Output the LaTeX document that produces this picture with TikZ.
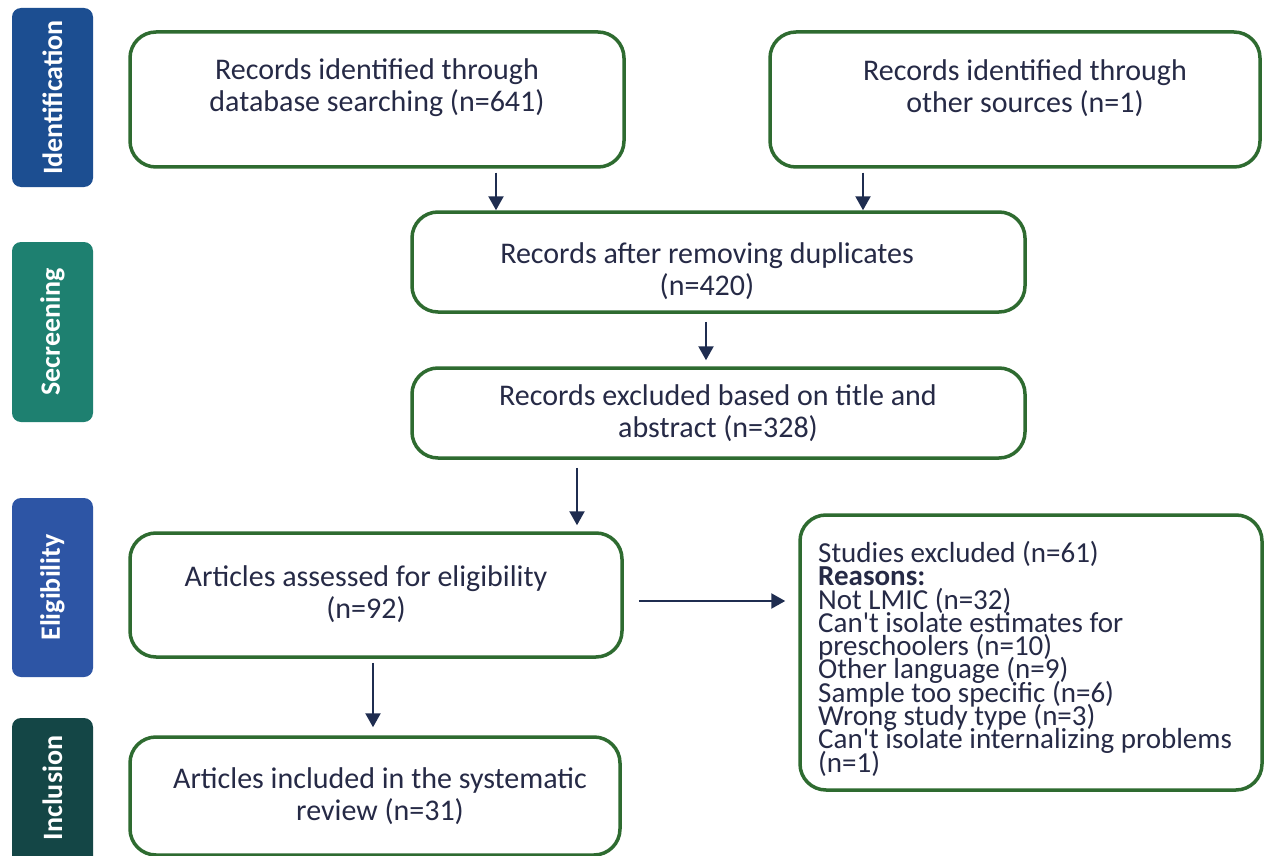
\documentclass[tikz,border=0pt]{standalone}
\usepackage{fontspec}
\setmainfont{Carlito}
\usetikzlibrary{arrows.meta,calc}
\definecolor{boxgreen}{RGB}{46,107,48}
\definecolor{txtnavy}{RGB}{38,42,70}
\definecolor{arrnavy}{RGB}{31,45,80}
\definecolor{idblue}{RGB}{28,78,145}
\definecolor{scteal}{RGB}{30,128,112}
\definecolor{elblue}{RGB}{45,85,165}
\definecolor{indark}{RGB}{20,70,70}
\newcommand\mytightlines{\lineskiplimit=-50pt\relax\lineskip=0pt\relax}
\tikzset{
  flowbox/.style={draw=boxgreen, line width=3.5pt, rounded corners=26pt, fill=white, inner sep=0pt},
  flowtext/.style={text=txtnavy, align=center, font=\fontsize{30}{32}\selectfont, inner sep=0pt},
  reasontext/.style={text=txtnavy, align=left, anchor=north west, font={\fontsize{29}{23.3}\selectfont\mytightlines}, inner sep=0pt},
  sidebox/.style={rounded corners=9pt, inner sep=0pt},
  sidetext/.style={text=white, rotate=90, font=\fontsize{28}{30}\selectfont\bfseries, inner sep=0pt},
  arr/.style={draw=arrnavy, line width=2.3pt, -{Triangle[width=15pt,length=14pt]}},
}
\begin{document}
\begin{tikzpicture}[x=1pt,y=-1pt]
\useasboundingbox (0,0) rectangle (1264,856);
\clip (0,0) rectangle (1264,856);
\fill[white] (0,0) rectangle (1264,856);
% side labels
\fill[idblue, sidebox] (12,8) rectangle (93,187);
\node[sidetext] (sid) at (52.5,97.5) {Identification};
\fill[scteal, sidebox] (12,242) rectangle (93,422);
\node[sidetext] (ssc) at (52.5,332) {Secreening};
\fill[elblue, sidebox] (12,498) rectangle (93,677);
\node[sidetext] (sel) at (52.5,587.5) {Eligibility};
\fill[indark, sidebox] (12,718) rectangle (93,880);
\node[sidetext] (sin) at (52.5,788) {Inclusion};
% boxes
\node[flowbox, minimum width=494pt, minimum height=135pt] (A) at (377,99.5) {};
\node[flowtext] (At) at (377,88) {Records identified through\\database searching (n=641)};
\node[flowbox, minimum width=490pt, minimum height=135pt] (B) at (1015,99.5) {};
\node[flowtext] (Bt) at (1025,88) {Records identified through\\other sources (n=1)};
\node[flowbox, minimum width=613pt, minimum height=100pt] (C) at (718.5,262) {};
\node[flowtext] (Ct) at (707,271) {Records after removing duplicates\\(n=420)};
\node[flowbox, minimum width=613pt, minimum height=90pt] (D) at (718.5,413) {};
\node[flowtext] (Dt) at (718,413) {Records excluded based on title and\\abstract (n=328)};
\node[flowbox, minimum width=492pt, minimum height=124pt] (E) at (376,595) {};
\node[flowtext] (Et) at (366,594) {Articles assessed for eligibility\\(n=92)};
\node[flowbox, minimum width=490pt, minimum height=118pt] (G) at (375,796) {};
\node[flowtext] (Gt) at (380,796) {Articles included in the systematic\\review (n=31)};
\node[flowbox, minimum width=462pt, minimum height=275pt] (F) at (1031,652.5) {};
\node[reasontext] (Ft) at (818,541) {Studies excluded (n=61)\\\textbf{Reasons:}\\Not LMIC (n=32)\\Can\textquotesingle t isolate estimates for\\preschoolers (n=10)\\Other language (n=9)\\Sample too specific (n=6)\\Wrong study type (n=3)\\Can\textquotesingle t isolate internalizing problems\\(n=1)};
% arrows
\draw[arr, shorten <=4pt] ([xshift=119]A.south) -- ([xshift=119]A.south |- C.north);
\draw[arr, shorten <=4pt] ([xshift=-152]B.south) -- ([xshift=-152]B.south |- C.north);
\draw[arr, shorten <=8pt, shorten >=6pt] ([xshift=-12.5]C.south) -- ([xshift=-12.5]C.south |- D.north);
\draw[arr, shorten <=8pt, shorten >=6pt] ([xshift=-141.5]D.south) -- ([xshift=-141.5]D.south |- E.north);
\draw[arr, shorten <=15pt, shorten >=13pt] ([yshift=-6]E.east) -- ([yshift=-6]E.east -| F.west);
\draw[arr, shorten <=4pt, shorten >=8pt] ([xshift=-3]E.south) -- ([xshift=-3]E.south |- G.north);
\end{tikzpicture}
\end{document}
